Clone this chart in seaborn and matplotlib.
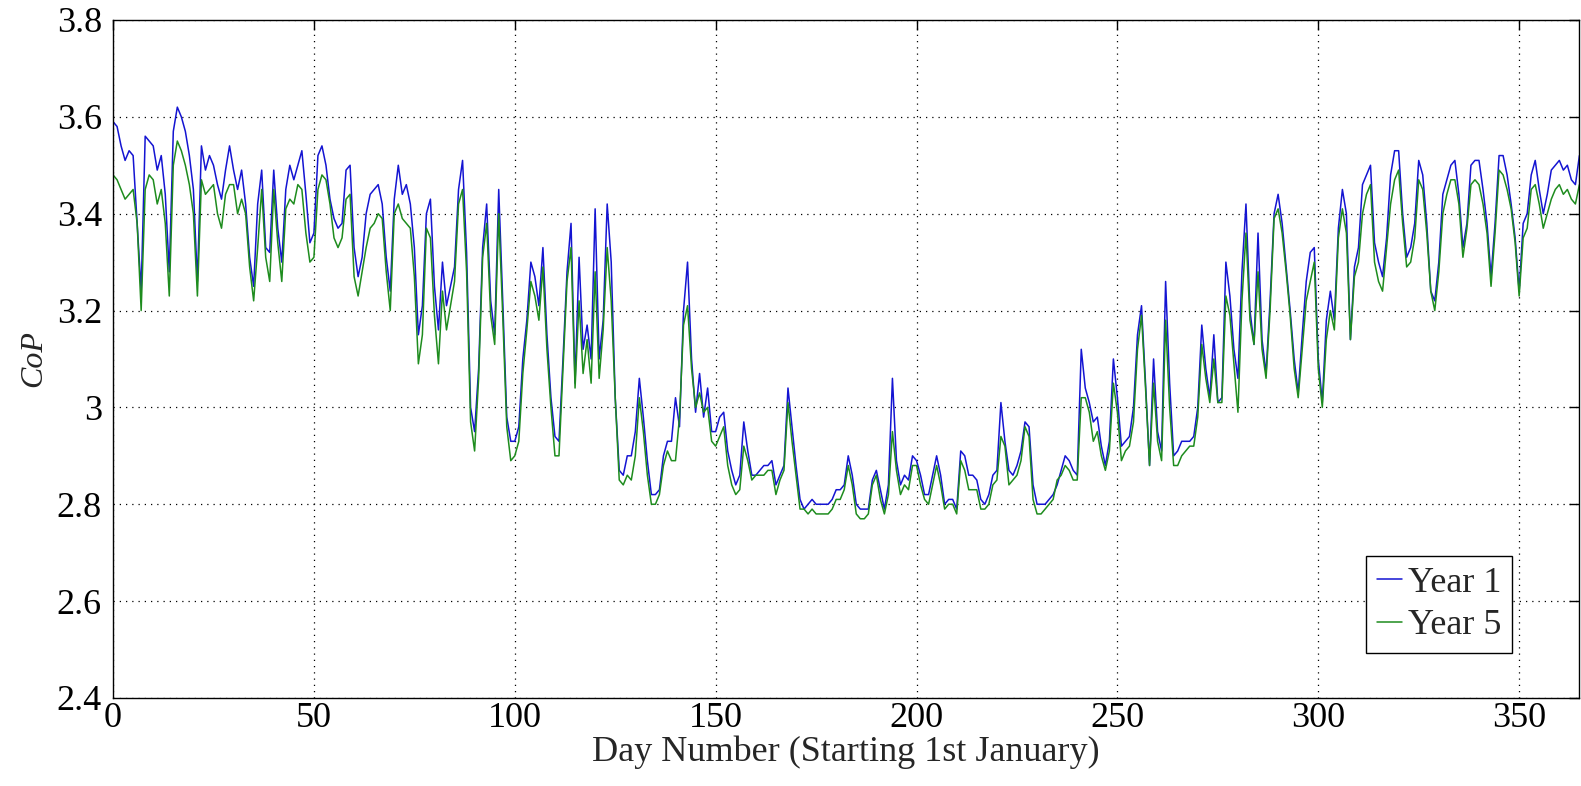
import numpy as np
import pandas as pd
import matplotlib
matplotlib.use("Agg")
import matplotlib.pyplot as plt
from matplotlib.ticker import FuncFormatter
import seaborn as sns

# ---- data (day 0 .. 365) ----
year1 = [
    3.59, 3.58, 3.54, 3.51, 3.53, 3.52, 3.38, 3.24, 3.56, 3.55,
    3.54, 3.49, 3.52, 3.44, 3.28, 3.57, 3.62, 3.60, 3.57, 3.52,
    3.45, 3.26, 3.54, 3.49, 3.52, 3.50, 3.46, 3.43, 3.49, 3.54,
    3.49, 3.45, 3.49, 3.42, 3.31, 3.25, 3.42, 3.49, 3.33, 3.32,
    3.49, 3.37, 3.30, 3.45, 3.50, 3.47, 3.50, 3.53, 3.44, 3.34,
    3.36, 3.52, 3.54, 3.50, 3.43, 3.39, 3.37, 3.38, 3.49, 3.50,
    3.33, 3.27, 3.31, 3.40, 3.44, 3.45, 3.46, 3.42, 3.31, 3.24,
    3.43, 3.50, 3.44, 3.46, 3.42, 3.33, 3.15, 3.21, 3.40, 3.43,
    3.25, 3.16, 3.30, 3.21, 3.25, 3.29, 3.45, 3.51, 3.32, 3.00,
    2.95, 3.08, 3.33, 3.42, 3.22, 3.15, 3.45, 3.22, 2.98, 2.93,
    2.93, 2.96, 3.10, 3.18, 3.30, 3.27, 3.21, 3.33, 3.15, 3.02,
    2.94, 2.93, 3.10, 3.28, 3.38, 3.05, 3.31, 3.12, 3.17, 3.10,
    3.41, 3.10, 3.18, 3.42, 3.30, 3.02, 2.87, 2.86, 2.90, 2.90,
    2.95, 3.06, 2.98, 2.89, 2.82, 2.82, 2.83, 2.90, 2.93, 2.93,
    3.02, 2.96, 3.20, 3.30, 3.10, 2.99, 3.07, 2.98, 3.04, 2.95,
    2.95, 2.98, 2.99, 2.91, 2.87, 2.84, 2.86, 2.97, 2.91, 2.86,
    2.86, 2.87, 2.88, 2.88, 2.89, 2.84, 2.86, 2.88, 3.04, 2.96,
    2.88, 2.81, 2.79, 2.80, 2.81, 2.80, 2.80, 2.80, 2.80, 2.81,
    2.83, 2.83, 2.84, 2.90, 2.86, 2.80, 2.79, 2.79, 2.79, 2.85,
    2.87, 2.83, 2.79, 2.84, 3.06, 2.89, 2.84, 2.86, 2.85, 2.90,
    2.89, 2.86, 2.82, 2.82, 2.86, 2.90, 2.86, 2.80, 2.81, 2.81,
    2.79, 2.91, 2.90, 2.86, 2.86, 2.85, 2.81, 2.80, 2.82, 2.86,
    2.87, 3.01, 2.93, 2.87, 2.86, 2.88, 2.91, 2.97, 2.96, 2.84,
    2.80, 2.80, 2.80, 2.81, 2.82, 2.84, 2.87, 2.90, 2.89, 2.87,
    2.86, 3.12, 3.04, 3.01, 2.97, 2.98, 2.92, 2.88, 2.93, 3.10,
    3.02, 2.92, 2.93, 2.94, 3.00, 3.15, 3.21, 3.05, 2.88, 3.10,
    2.95, 2.91, 3.26, 3.05, 2.90, 2.91, 2.93, 2.93, 2.93, 2.94,
    3.00, 3.17, 3.08, 3.02, 3.15, 3.01, 3.02, 3.30, 3.23, 3.12,
    3.06, 3.28, 3.42, 3.20, 3.13, 3.36, 3.14, 3.07, 3.22, 3.40,
    3.44, 3.38, 3.29, 3.20, 3.10, 3.03, 3.15, 3.26, 3.32, 3.33,
    3.10, 3.01, 3.18, 3.24, 3.18, 3.37, 3.45, 3.40, 3.14, 3.29,
    3.33, 3.46, 3.48, 3.50, 3.34, 3.30, 3.27, 3.35, 3.48, 3.53,
    3.53, 3.40, 3.31, 3.33, 3.38, 3.51, 3.48, 3.38, 3.24, 3.22,
    3.30, 3.44, 3.47, 3.50, 3.51, 3.44, 3.33, 3.38, 3.50, 3.51,
    3.51, 3.45, 3.38, 3.27, 3.38, 3.52, 3.52, 3.48, 3.42, 3.35,
    3.24, 3.38, 3.40, 3.48, 3.51, 3.45, 3.40, 3.44, 3.49, 3.50,
    3.51, 3.49, 3.50, 3.47, 3.46, 3.52,
]

year5 = [
    3.48, 3.47, 3.45, 3.43, 3.44, 3.45, 3.38, 3.20, 3.45, 3.48,
    3.47, 3.42, 3.45, 3.38, 3.23, 3.50, 3.55, 3.53, 3.50, 3.46,
    3.40, 3.23, 3.47, 3.44, 3.45, 3.46, 3.40, 3.37, 3.44, 3.46,
    3.46, 3.40, 3.43, 3.40, 3.29, 3.22, 3.33, 3.45, 3.31, 3.26,
    3.45, 3.34, 3.26, 3.41, 3.43, 3.42, 3.46, 3.45, 3.36, 3.30,
    3.31, 3.45, 3.48, 3.47, 3.42, 3.35, 3.33, 3.35, 3.43, 3.44,
    3.27, 3.23, 3.28, 3.33, 3.37, 3.38, 3.40, 3.39, 3.28, 3.20,
    3.40, 3.42, 3.39, 3.38, 3.37, 3.27, 3.09, 3.15, 3.37, 3.35,
    3.19, 3.09, 3.24, 3.16, 3.21, 3.26, 3.42, 3.45, 3.28, 2.97,
    2.91, 3.06, 3.31, 3.38, 3.19, 3.13, 3.40, 3.19, 2.96, 2.89,
    2.90, 2.93, 3.07, 3.16, 3.26, 3.23, 3.18, 3.29, 3.12, 3.00,
    2.90, 2.90, 3.08, 3.26, 3.33, 3.04, 3.22, 3.07, 3.14, 3.05,
    3.28, 3.06, 3.16, 3.33, 3.22, 3.02, 2.85, 2.84, 2.86, 2.85,
    2.90, 3.02, 2.95, 2.86, 2.80, 2.80, 2.82, 2.88, 2.91, 2.89,
    2.89, 2.98, 3.17, 3.21, 3.08, 3.00, 3.03, 2.99, 3.00, 2.93,
    2.92, 2.94, 2.96, 2.88, 2.84, 2.82, 2.83, 2.92, 2.89, 2.85,
    2.86, 2.86, 2.86, 2.87, 2.87, 2.82, 2.85, 2.87, 3.01, 2.93,
    2.86, 2.79, 2.79, 2.78, 2.79, 2.78, 2.78, 2.78, 2.78, 2.79,
    2.81, 2.81, 2.83, 2.88, 2.84, 2.78, 2.77, 2.77, 2.78, 2.84,
    2.86, 2.81, 2.78, 2.82, 2.95, 2.87, 2.82, 2.84, 2.83, 2.88,
    2.88, 2.84, 2.81, 2.80, 2.84, 2.88, 2.84, 2.79, 2.80, 2.80,
    2.78, 2.89, 2.87, 2.83, 2.83, 2.83, 2.79, 2.79, 2.80, 2.84,
    2.85, 2.94, 2.92, 2.84, 2.85, 2.86, 2.89, 2.96, 2.94, 2.81,
    2.78, 2.78, 2.79, 2.80, 2.81, 2.85, 2.86, 2.88, 2.87, 2.85,
    2.85, 3.02, 3.02, 2.99, 2.93, 2.95, 2.90, 2.87, 2.91, 3.05,
    2.99, 2.89, 2.91, 2.92, 2.97, 3.12, 3.19, 3.04, 2.88, 3.05,
    2.93, 2.89, 3.18, 3.00, 2.88, 2.88, 2.90, 2.91, 2.92, 2.92,
    2.98, 3.13, 3.06, 3.01, 3.10, 3.01, 3.01, 3.23, 3.19, 3.09,
    2.99, 3.22, 3.36, 3.18, 3.13, 3.28, 3.12, 3.06, 3.20, 3.39,
    3.41, 3.36, 3.28, 3.19, 3.08, 3.02, 3.12, 3.22, 3.26, 3.30,
    3.08, 3.00, 3.14, 3.20, 3.16, 3.35, 3.41, 3.36, 3.14, 3.27,
    3.30, 3.40, 3.44, 3.46, 3.30, 3.26, 3.24, 3.33, 3.42, 3.47,
    3.49, 3.38, 3.29, 3.30, 3.35, 3.47, 3.45, 3.36, 3.24, 3.20,
    3.28, 3.40, 3.44, 3.47, 3.47, 3.42, 3.31, 3.37, 3.46, 3.47,
    3.46, 3.42, 3.36, 3.25, 3.36, 3.49, 3.48, 3.45, 3.41, 3.34,
    3.23, 3.35, 3.37, 3.45, 3.46, 3.42, 3.37, 3.40, 3.43, 3.45,
    3.46, 3.44, 3.45, 3.43, 3.42, 3.46,
]

days = list(range(len(year1)))
series_names = ["Year 1", "Year 5"]
x_ticks = [0, 50, 100, 150, 200, 250, 300, 350]
y_ticks = [2.4, 2.6, 2.8, 3.0, 3.2, 3.4, 3.6, 3.8]
x_label = "Day Number (Starting 1st January)"
y_label = "CoP"

df = pd.DataFrame({
    "Day": days + days,
    "CoP": year1 + year5,
    "Series": [series_names[0]] * len(days) + [series_names[1]] * len(days),
})

sns.set_style("white")
plt.rcParams["font.family"] = ["Liberation Serif", "DejaVu Serif"]

FS = 26

fig = plt.figure(figsize=(15.81, 7.86), dpi=100)
ax = fig.add_axes([0.0715, 0.112, 0.9275, 0.8626])

sns.lineplot(data=df, x="Day", y="CoP", hue="Series",
             palette={"Year 1": "#1414d2", "Year 5": "#1e8c1e"},
             linewidth=1.1, ax=ax, estimator=None, sort=False)

ax.set_xlim(0, 365)
ax.set_ylim(2.4, 3.8)
ax.set_xticks(x_ticks)
ax.set_yticks(y_ticks)
ax.yaxis.set_major_formatter(FuncFormatter(lambda v, p: f"{v:g}"))
ax.tick_params(axis="both", direction="in", length=7, width=1.0,
               labelsize=FS, top=True, right=True, colors="black")
ax.tick_params(axis="y", pad=8)
ax.tick_params(axis="x", pad=3)
ax.grid(True, linestyle=(0, (1, 4)), color="black", linewidth=0.9)
for s in ax.spines.values():
    s.set_visible(True)
    s.set_color("black")
    s.set_linewidth(1.0)

ax.set_xlabel(x_label, fontsize=FS, labelpad=0)
ax.set_ylabel(y_label, fontsize=23, fontstyle="italic", labelpad=6)

leg = ax.legend(loc="lower right", bbox_to_anchor=(0.954, 0.066),
                fontsize=FS, frameon=True, fancybox=False,
                handlelength=0.7, handletextpad=0.15, borderpad=0.3,
                labelspacing=0.25, borderaxespad=0.0)
leg.get_frame().set_edgecolor("black")
leg.get_frame().set_linewidth(1.0)
leg.get_frame().set_alpha(1.0)

fig.savefig("out.png", dpi=100, facecolor="white")
